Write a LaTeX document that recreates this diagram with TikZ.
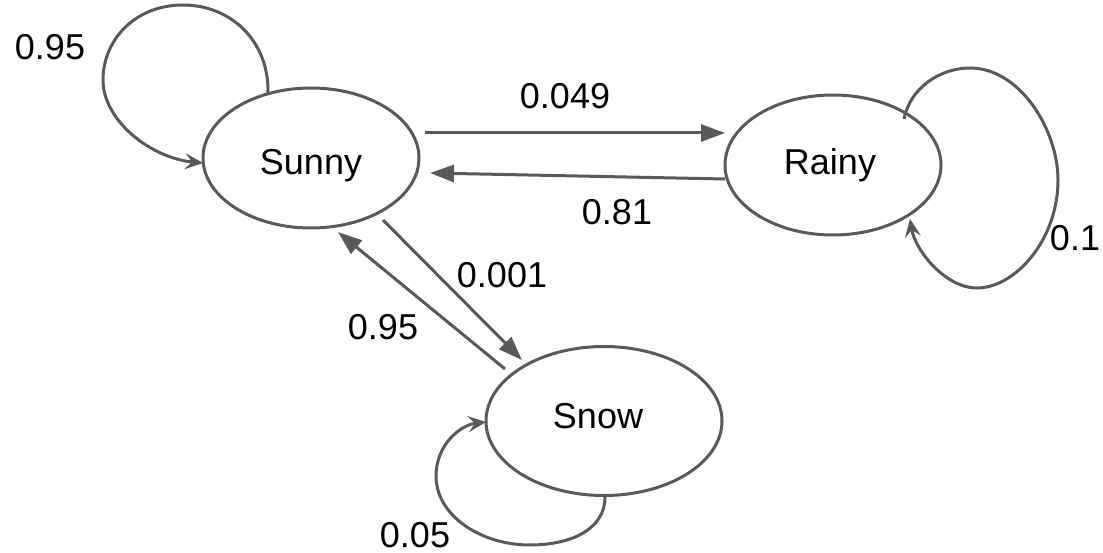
\documentclass[tikz,border=0pt]{standalone}
\usepackage{fontspec}
\setmainfont{Liberation Sans}
\usetikzlibrary{shapes.geometric,arrows.meta,calc}
\definecolor{edgegray}{HTML}{595959}
\begin{document}
\begin{tikzpicture}[x=1pt,y=-1pt,
  state/.style={ellipse, draw=edgegray, line width=3pt, inner sep=0pt,
    text height=25.8pt, text depth=0pt, font=\fontsize{36}{40}\selectfont},
  trans/.style={draw=edgegray, line width=3pt, -{Triangle[length=24pt,width=17pt]}},
  loopedge/.style={draw=edgegray, line width=3pt, -{Stealth[length=18pt,width=16pt,inset=7pt]}},
  lbl/.style={inner sep=0pt, text height=25.8pt, text depth=0pt, font=\fontsize{36}{40}\selectfont}
]
\useasboundingbox (0,0) rectangle (1103,553);

\node[state, minimum width=216pt, minimum height=140pt] (sunny) at (311,158) {\raisebox{-3.5pt}{Sunny}};
\node[state, minimum width=216pt, minimum height=140pt] (rainy) at (833,165) {\raisebox{3.5pt}{\hspace*{-6pt}Rainy}};
\node[state, minimum width=236pt, minimum height=149pt] (snow) at (604,421) {\raisebox{5pt}{\hspace*{-12pt}Snow}};

% straight transitions
\draw[trans] ($(sunny.center)+(114,-25)$) -- ($(rainy.center)+(-108,-32)$);
\draw[trans] ($(rainy.center)+(-108,14)$) -- ($(sunny.center)+(119,15)$);
\draw[trans] ($(sunny.center)+(72,62)$) -- ($(snow.center)+(-82,-61)$);
\draw[trans] ($(snow.center)+(-99,-52)$) -- ($(sunny.center)+(27,74)$);

% self loops
\draw[loopedge] ($(sunny.center)+(-43,-65)$)
  .. controls (269,40) and (230,5) .. (183,5)
  .. controls (135,5) and (103,40) .. (103,80)
  .. controls (103,120) and (150,158) .. ($(sunny.center)+(-108,5)$);
\draw[loopedge] ($(rainy.center)+(71,-46)$)
  .. controls (910,88) and (940,68) .. (970,68)
  .. controls (1020,68) and (1058,130) .. (1058,180)
  .. controls (1058,240) and (1015,288) .. (977,288)
  .. controls (945,288) and (915,250) .. ($(rainy.center)+(77,54)$);
\draw[loopedge] ($(snow.center)+(1,76)$)
  .. controls (605,530) and (570,545) .. (530,545)
  .. controls (480,545) and (436,515) .. (436,476)
  .. controls (436,445) and (460,425) .. ($(snow.center)+(-118,1)$);

% labels
\node[lbl] (l1) at (50,47) {0.95};
\node[lbl] (l2) at (565,96) {0.049};
\node[lbl] (l3) at (617,212) {0.81};
\node[lbl] (l4) at (502,275) {0.001};
\node[lbl] (l5) at (383,327) {0.95};
\node[lbl] (l6) at (1075,238) {0.1};
\node[lbl] (l7) at (415,535) {0.05};
\end{tikzpicture}
\end{document}
